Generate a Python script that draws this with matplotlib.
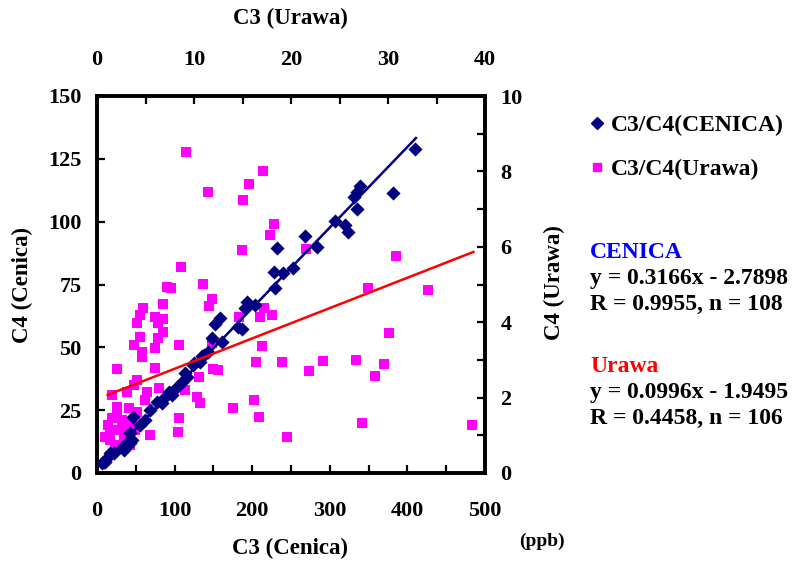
import numpy as np
import matplotlib.pyplot as plt
from matplotlib.lines import Line2D

plt.rcParams['font.family'] = ['Liberation Serif', 'DejaVu Serif']
plt.rcParams['font.weight'] = 'bold'

## C3 / C4 at Cenica (ppb), bottom + left axes
cen_c3 = [409.8, 381.4, 338.9, 335.1, 331.2, 335.1, 306.7, 319.6, 323.5, 268.0,
          283.5, 252.6, 239.7, 232.0, 228.1, 229.4, 193.3, 203.6, 190.7, 158.5,
          152.1, 181.7, 186.9, 148.2, 161.1, 143.0, 135.3, 123.7, 132.7, 116.0,
          109.5, 113.4, 96.6, 87.6, 83.8, 92.8, 103.1, 77.3, 61.9, 46.4,
          42.5, 45.1, 42.5, 33.5, 34.8, 21.9, 16.8, 12.9, 10.3, 9.0,
          6.4, 125.0, 137.9, 55.4, 68.3]
cen_c4 = [128.9, 111.4, 114.2, 111.8, 109.8, 105.1, 100.3, 98.7, 95.9, 94.3,
          89.9, 81.6, 79.6, 89.5, 80.0, 73.6, 68.0, 66.9, 65.7, 61.7,
          59.3, 58.1, 57.3, 53.7, 52.1, 48.1, 46.6, 43.0, 44.2, 38.2,
          36.2, 39.8, 31.0, 30.2, 27.9, 32.2, 34.2, 28.3, 21.1, 22.3,
          15.9, 13.1, 11.9, 10.3, 9.2, 8.0, 8.0, 6.0, 4.4, 4.4,
          4.0, 43.8, 47.0, 19.1, 25.1]

## C3 / C4 at Urawa (ppb), top + right axes
ura_c3 = [9.18, 17.11, 15.67, 11.44, 15.05, 18.25, 17.84, 14.95, 21.55, 30.82,
          8.66, 7.22, 7.63, 10.93, 27.94, 34.12, 11.86, 11.55, 6.80, 4.74,
          4.43, 4.12, 5.98, 6.80, 6.29, 6.80, 6.29, 4.43, 3.81, 4.64,
          4.64, 5.98, 8.45, 2.06, 5.98, 4.12, 3.81, 1.55, 3.09, 5.15,
          6.39, 9.07, 10.52, 10.31, 11.86, 11.96, 14.64, 16.80, 17.22, 18.04,
          17.01, 16.39, 19.07, 16.19, 14.02, 16.70, 8.45, 8.35, 5.46, 19.59,
          30.10, 21.86, 23.30, 26.70, 28.66, 29.59, 27.32, 38.66, 4.95, 2.06,
          3.30, 1.55, 2.58, 1.34, 2.37, 3.61, 3.92, 1.34, 2.78, 4.12,
          2.06, 0.82, 10.62, 12.47, 1.13, 3.09, 1.86, 3.40]
ura_c4 = [8.51, 8.01, 7.67, 7.45, 7.24, 6.60, 6.31, 5.92, 5.94, 5.76,
          5.46, 4.93, 4.91, 5.01, 4.91, 4.85, 4.62, 4.43, 4.48, 4.38,
          4.19, 3.98, 4.14, 4.08, 3.98, 3.74, 3.58, 3.61, 3.40, 3.21,
          3.08, 3.32, 3.40, 2.76, 2.79, 2.47, 2.33, 2.07, 2.15, 2.15,
          2.25, 2.20, 2.55, 2.02, 3.45, 2.76, 4.14, 4.14, 4.38, 4.19,
          3.37, 2.94, 2.94, 1.94, 1.72, 1.49, 1.46, 1.09, 1.01, 0.95,
          3.71, 2.71, 2.97, 3.00, 2.57, 2.89, 1.33, 1.27, 1.94, 1.75,
          1.72, 1.46, 1.41, 1.14, 1.14, 1.35, 1.14, 0.88, 0.93, 1.62,
          1.54, 0.95, 1.86, 2.73, 1.27, 1.22, 0.74, 0.74]

## trend lines as drawn (slope, intercept, x start, x end)
cen_fit = [0.3206, 1.5, 7.7, 411.0]
ura_fit = [0.1006, 1.96, 1.1, 38.8]

W, H = 797, 562
fig = plt.figure(figsize=(W / 100, H / 100), dpi=100)
rect = [97 / W, 1 - 473 / H, 388 / W, 377 / H]
ax_u = fig.add_axes(rect)                       # Urawa (top/right)
ax_c = fig.add_axes(rect, facecolor='none')     # Cenica (bottom/left)

fs = 16          # tick labels / axis titles
fs2 = 17         # legend + equations
navy = '#000080'
pink = '#FF00FF'

ax_u.scatter(ura_c3, ura_c4, marker='s', s=55, color=pink, linewidths=0)
ax_u.set_xlim(0, 40); ax_u.set_ylim(0, 10)
ax_u.xaxis.tick_top(); ax_u.yaxis.tick_right()
ax_u.set_xticks(np.arange(0, 41, 5)); ax_u.set_yticks(np.arange(0, 11, 1))
ax_u.set_xticklabels([str(v) if v % 10 == 0 else '' for v in range(0, 41, 5)])
ax_u.set_yticklabels([str(v) if v % 2 == 0 else '' for v in range(0, 11)])
ax_u.tick_params(axis='x', direction='in', length=6, width=1.6, pad=19, labelsize=fs)
ax_u.tick_params(axis='y', direction='in', length=6, width=1.6, pad=11, labelsize=fs)

ax_c.scatter(cen_c3, cen_c4, marker='D', s=52, color=navy, linewidths=0, zorder=3)
xc = np.array(cen_fit[2:])
ax_c.plot(xc, cen_fit[0] * xc + cen_fit[1], color=navy, lw=1.8, zorder=4)
xu = np.array(ura_fit[2:])
ax_c.plot(xu, ura_fit[0] * xu + ura_fit[1], color='red', lw=1.8, zorder=5,
          transform=ax_u.transData)
ax_c.set_xlim(0, 500); ax_c.set_ylim(0, 150)
ax_c.set_xticks(np.arange(0, 501, 50)); ax_c.set_yticks(np.arange(0, 151, 25))
ax_c.set_xticklabels([str(v) if v % 100 == 0 else '' for v in range(0, 501, 50)])
ax_c.tick_params(axis='x', direction='in', length=6, width=1.6, pad=20, labelsize=fs)
ax_c.tick_params(axis='y', direction='in', length=6, width=1.6, pad=11, labelsize=fs)
for a in (ax_u, ax_c):
    for s in a.spines.values():
        s.set_linewidth(2.6)

def px(x, y):
    return x / W, 1 - y / H

fig.text(*px(290, 18), 'C3 (Urawa)', ha='center', va='center', fontsize=fs + 0.5)
fig.text(*px(290, 548), 'C3 (Cenica)', ha='center', va='center', fontsize=fs + 0.5)
fig.text(*px(22, 285), 'C4 (Cenica)', ha='center', va='center', rotation=90, fontsize=fs + 0.5)
fig.text(*px(554, 283), 'C4 (Urawa)', ha='center', va='center', rotation=90, fontsize=fs + 0.5)
fig.text(*px(542, 541), '(ppb)', ha='center', va='center', fontsize=fs - 2)

handles = [Line2D([], [], ls='none', marker='D', ms=6, color=navy),
           Line2D([], [], ls='none', marker='s', ms=6, color=pink)]
fig.legend(handles, ['C3/C4(CENICA)', 'C3/C4(Urawa)'], loc='upper left',
           bbox_to_anchor=px(578, 103), frameon=False, fontsize=fs2,
           handlelength=0.6, handletextpad=0.3, labelspacing=0.95, borderpad=0)

stats = [('CENICA', 'blue', 258), ('y = 0.3166x - 2.7898', 'black', 284),
         ('R = 0.9955, n = 108', 'black', 310), ('Urawa', 'red', 372),
         ('y = 0.0996x - 1.9495', 'black', 398), ('R = 0.4458, n = 106', 'black', 424)]
for txt, col, yb in stats:
    fig.text(*px(590, yb), txt, color=col, ha='left', va='baseline', fontsize=fs2)

fig.savefig('out.png', dpi=100)
